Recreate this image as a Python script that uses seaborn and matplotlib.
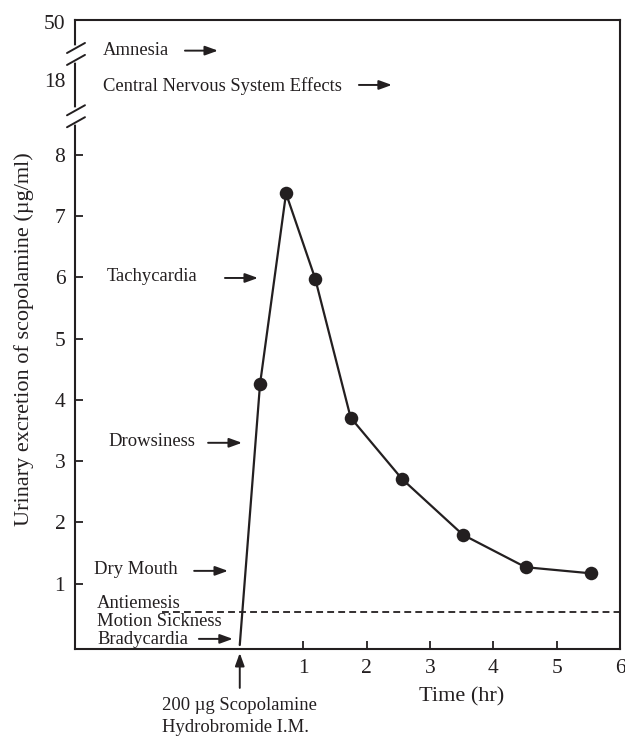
import numpy as np
import pandas as pd
import matplotlib
matplotlib.use("Agg")
import matplotlib.pyplot as plt
import seaborn as sns

# ---------------- data ----------------
time_hr = [0.0, 0.32, 0.73, 1.19, 1.75, 2.56, 3.52, 4.51, 5.54]
excretion = [0.0, 4.26, 7.37, 5.98, 3.71, 2.71, 1.80, 1.27, 1.17]
threshold = 0.54

xtick_vals = [1, 2, 3, 4, 5, 6]
ytick_vals = [1, 2, 3, 4, 5, 6, 7, 8]
ybreak_tick_vals = [9.22, 10.17]
ybreak_tick_labels = ["18", "50"]

effect_labels = ["Amnesia", "Central Nervous System Effects", "Tachycardia",
                 "Drowsiness", "Dry Mouth", "Antiemesis", "Motion Sickness",
                 "Bradycardia"]
effect_text_x = [-2.16, -2.16, -2.10, -2.08, -2.30, -2.25, -2.25, -2.25]
effect_text_y = [9.71, 9.12, 6.02, 3.32, 1.24, 0.685, 0.39, 0.098]
effect_arrow_x0 = [-0.865, 1.88, -0.234, -0.50, -0.72, None, None, -0.645]
effect_arrow_x1 = [-0.344, 2.40, 0.287, 0.035, -0.186, None, None, -0.11]
effect_arrow_y = [9.70, 9.14, 5.99, 3.30, 1.21, None, None, 0.10]

INK = "#231f20"

sns.set_style("ticks")
plt.rcParams["font.family"] = ["Liberation Serif", "DejaVu Serif"]
plt.rcParams["text.color"] = INK
plt.rcParams["axes.labelcolor"] = INK

fig = plt.figure(figsize=(6.25, 7.36), dpi=100)
ax = fig.add_axes([75 / 625, 1 - 649 / 736, 545 / 625, 629 / 736])

df = pd.DataFrame({"time": time_hr, "conc": excretion})
sns.lineplot(data=df, x="time", y="conc", color=INK, lw=1.6, ax=ax, zorder=3)
sns.scatterplot(data=df.iloc[1:], x="time", y="conc", s=95, color=INK,
                edgecolor=INK, linewidth=0, ax=ax, zorder=4)

ax.plot([-1.22, 6.0], [threshold, threshold], color=INK, lw=1.3,
        ls=(0, (3.8, 2.3)), zorder=2)

ax.set_xlim(-2.6, 6.0)
ax.set_ylim(-0.065, 10.2)

for sp in ax.spines.values():
    sp.set_visible(True)
    sp.set_linewidth(1.5)
    sp.set_color(INK)

ax.set_xticks(xtick_vals)
ax.set_xticklabels([str(v) for v in xtick_vals])
ax.set_yticks(ytick_vals + ybreak_tick_vals)
ax.set_yticklabels([str(v) for v in ytick_vals] + ybreak_tick_labels)
ax.tick_params(axis="both", direction="in", length=6, width=1.3, color=INK,
               labelcolor=INK, labelsize=15.5)
ax.tick_params(axis="y", pad=7)
ax.tick_params(axis="x", pad=7.5)
for t in ax.yaxis.get_major_ticks()[len(ytick_vals):]:
    t.tick1line.set_visible(False)

ax.set_xlabel("Time (hr)", fontsize=16)
ax.xaxis.set_label_coords(0.71, -0.076)
ax.xaxis.label.set_va("center")
ax.set_ylabel("Urinary excretion of scopolamine (µg/ml)", fontsize=16)
ax.yaxis.set_label_coords(-0.094, 0.493)
ax.yaxis.label.set_va("center")

# axis breaks
for yc in [0.946, 0.847]:
    ax.plot([0, 0], [yc - 0.0095, yc + 0.0095], color="white", lw=4,
            transform=ax.transAxes, clip_on=False, zorder=5)
    for off in (-0.0095, 0.0095):
        ax.plot([-0.0147, 0.0183], [yc + off - 0.008, yc + off + 0.008],
                color=INK, lw=1.4, transform=ax.transAxes, clip_on=False,
                zorder=6)

arrowprops = dict(arrowstyle="-|>,head_length=0.55,head_width=0.2",
                  color=INK, lw=1.4, shrinkA=0, shrinkB=0, mutation_scale=14)

for lab, tx, ty, x0, x1, ay in zip(effect_labels, effect_text_x, effect_text_y,
                                   effect_arrow_x0, effect_arrow_x1,
                                   effect_arrow_y):
    ax.text(tx, ty, lab, ha="left", va="center", fontsize=13.4, color=INK)
    if x0 is not None:
        ax.annotate("", xy=(x1, ay), xytext=(x0, ay), arrowprops=arrowprops)

ax.annotate("", xy=(0, -0.13), xytext=(0, -0.70), arrowprops=arrowprops,
            annotation_clip=False)
ax.text(-1.23, -0.98, "200 µg Scopolamine", ha="left", va="center",
        fontsize=13.4, color=INK, clip_on=False)
ax.text(-1.23, -1.35, "Hydrobromide I.M.", ha="left", va="center",
        fontsize=13.4, color=INK, clip_on=False)

fig.savefig("out.png", dpi=100)
